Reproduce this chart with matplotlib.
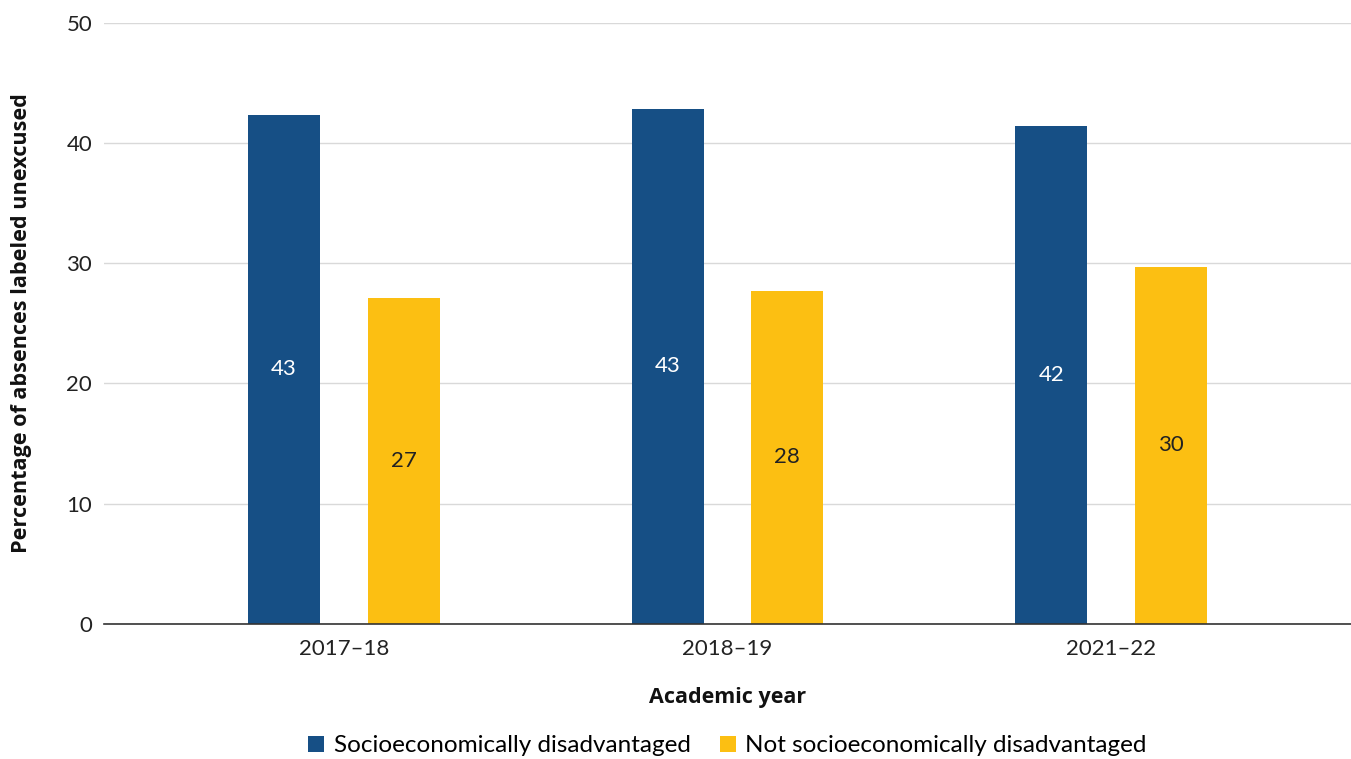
import matplotlib.pyplot as plt
import numpy as np

years = ["2017–18", "2018–19", "2021–22"]
disadvantaged = [42.35, 42.85, 41.45]
not_disadvantaged = [27.1, 27.7, 29.7]
disadvantaged_labels = ["43", "43", "42"]
not_disadvantaged_labels = ["27", "28", "30"]
series_names = ["Socioeconomically disadvantaged", "Not socioeconomically disadvantaged"]

plt.rcParams['font.family'] = ['Lato', 'DejaVu Sans']

fig = plt.figure(figsize=(13.51, 7.59), dpi=100)
ax = fig.add_axes([0.077, 0.178, 0.923, 0.792])

x = np.arange(len(years))
w = 0.1875
off = 0.156
b1 = ax.bar(x - off, disadvantaged, w, color='#164F85', label=series_names[0], zorder=3)
b2 = ax.bar(x + off, not_disadvantaged, w, color='#FCBF12', label=series_names[1], zorder=3)

for bar, v, lab in zip(b1, disadvantaged, disadvantaged_labels):
    ax.text(bar.get_x() + bar.get_width() / 2, v / 2, lab, ha='center', va='center',
            color='white', fontsize=16, zorder=4)
for bar, v, lab in zip(b2, not_disadvantaged, not_disadvantaged_labels):
    ax.text(bar.get_x() + bar.get_width() / 2, v / 2, lab, ha='center', va='center',
            color='#222222', fontsize=16, zorder=4)

ax.set_xlim(-0.625, 2.625)
ax.set_ylim(0, 50)
ax.set_yticks([0, 10, 20, 30, 40, 50])
ax.set_xticks(x)
ax.set_xticklabels(years)
ax.tick_params(axis='both', length=0, labelsize=16, colors='#222222')
ax.tick_params(axis='y', pad=8.5)
ax.tick_params(axis='x', pad=11)
ax.grid(axis='y', color='#d9d9d9', linewidth=1, zorder=0)
for s in ['top', 'right', 'left']:
    ax.spines[s].set_visible(False)
ax.spines['bottom'].set_color('#333333')
ax.spines['bottom'].set_linewidth(1.2)
ax.spines['bottom'].set_zorder(5)

ax.set_xlabel("Academic year", fontsize=15.5, fontweight='bold', labelpad=20, color='#111111',
              family=['Open Sans', 'DejaVu Sans'])
ax.set_ylabel("Percentage of absences labeled unexcused", fontsize=15.6, fontweight='bold',
              labelpad=25, color='#111111', family=['Open Sans', 'DejaVu Sans'])

ax.legend(loc='center', bbox_to_anchor=(0.5, -0.203), ncol=2, frameon=False,
          fontsize=17.5, handlelength=0.65, handleheight=0.65, handletextpad=0.4, columnspacing=1.2)

fig.savefig("out.png", dpi=100)
